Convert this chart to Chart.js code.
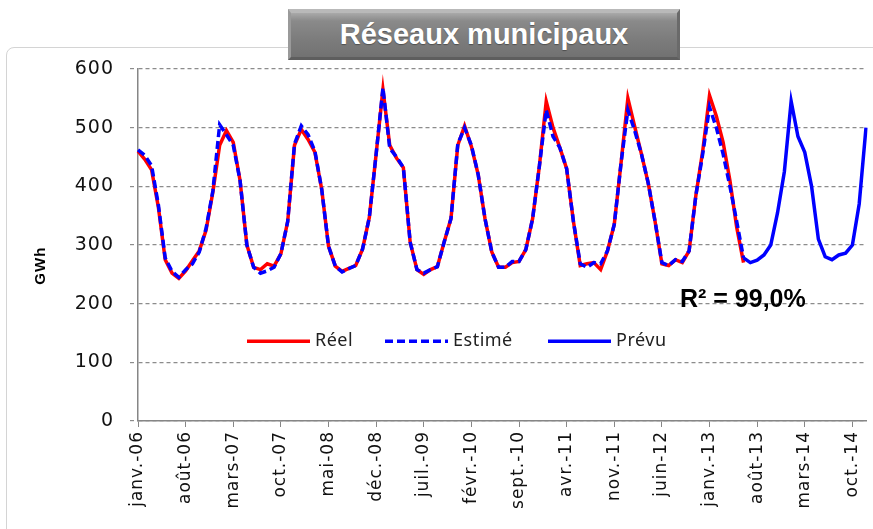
<!DOCTYPE html>
<html>

<head>
    <meta charset="UTF-8">
    <title>Réseaux municipaux</title>
    <script src="https://cdn.jsdelivr.net/npm/chart.js"></script>
    <style>
        body { margin: 0; background: #fff; }
        #wrap { position: relative; width: 873px; height: 529px; overflow: hidden; background: #fff; }
        #frame {
            position: absolute; left: 6px; top: 47px; width: 900px; height: 600px;
            border: 1px solid #d4d4d4; border-radius: 8px;
        }
        #title {
            position: absolute; left: 288px; top: 9px; width: 392px; height: 51px;
            box-sizing: border-box;
            background: linear-gradient(#a9a9a9 0%, #8a8a8a 18%, #7c7c7c 60%, #727272 100%);
            border-top: 4px solid #b9b9b9; border-left: 3px solid #9a9a9a;
            border-right: 3px solid #6a6a6a; border-bottom: 3px solid #5e5e5e;
            color: #fff; font: bold 29px "Liberation Sans", Arial, sans-serif;
            text-align: center; line-height: 42px;
            text-shadow: 0 1px 1px rgba(0, 0, 0, 0.35);
        }
        canvas { position: absolute; left: 0; top: 0; }
    </style>
</head>

<body>
    <div id="wrap">
        <div id="frame"></div>
        <canvas id="chart" width="873" height="529"></canvas>
        <div id="title">Réseaux municipaux</div>
    </div>

    <script>
        const monthNames = ["janv.", "févr.", "mars", "avr.", "mai", "juin", "juil.", "août", "sept.", "oct.", "nov.", "déc."];
        const years = ["06", "07", "08", "09", "10", "11", "12", "13", "14"];

        // GWh, janv.-06 .. juin-13
        const reel = [
            460, 446, 428, 364, 275, 252, 243, 256, 273, 290, 325, 390,
            470, 495, 475, 410, 300, 262, 258, 268, 264, 285, 340, 470,
            497, 480, 458, 395, 298, 264, 255, 260, 265, 293, 347, 455,
            565, 470, 448, 432, 305, 258, 250, 258, 263, 305, 345, 470,
            503, 468, 420, 345, 288, 262, 262, 270, 272, 292, 345, 435,
            545, 500, 466, 430, 340, 265, 268, 270, 258, 290, 335, 440,
            550, 502, 455, 405, 340, 268, 265, 275, 270, 290, 385, 460,
            555, 520, 475, 410, 330, 270
        ];
        const estime = [
            462, 453, 435, 368, 278, 255, 245, 258, 268, 288, 328, 392,
            505, 488, 470, 410, 300, 262, 252, 256, 262, 285, 340, 472,
            503, 488, 460, 395, 298, 264, 254, 260, 265, 293, 347, 455,
            568, 465, 450, 432, 305, 258, 252, 258, 263, 305, 345, 472,
            500, 470, 420, 345, 288, 262, 262, 272, 272, 292, 345, 435,
            530, 485, 466, 430, 340, 268, 262, 270, 268, 290, 335, 440,
            530, 495, 455, 405, 340, 270, 265, 275, 272, 290, 385, 455,
            535, 500, 455, 400, 340, 278
        ];
        // juin-13 .. déc.-14
        const prevu = [
            278, 270, 274, 283, 300, 355, 425, 545, 485, 458, 400, 310,
            280, 275, 283, 286, 300, 370, 500
        ];
        const prevuStart = 89;

        const labels = [];
        years.forEach(y => monthNames.forEach(m => labels.push(m + "-" + y)));

        const prevuData = labels.map((_, i) => i >= prevuStart ? prevu[i - prevuStart] : null);

        const legendItems = [
            { text: "Réel", color: "#ff0000", dash: [] },
            { text: "Estimé", color: "#0000ff", dash: [8, 4] },
            { text: "Prévu", color: "#0000ff", dash: [] }
        ];

        // Excel-like loose spacing on the axis labels
        const spacing = {
            id: "spacing",
            beforeDraw(chart) { chart.ctx.letterSpacing = "1px"; }
        };

        const overlay = {
            id: "overlay",
            afterDraw(chart) {
                const c = chart.ctx;
                const a = chart.chartArea;
                const yLeg = chart.scales.y.getPixelForValue(136);
                const starts = [109, 247, 410];
                c.save();
                c.letterSpacing = "0.5px";
                legendItems.forEach((it, k) => {
                    const x0 = a.left + starts[k];
                    c.strokeStyle = it.color;
                    c.lineWidth = 3.5;
                    c.setLineDash(it.dash);
                    c.beginPath();
                    c.moveTo(x0, yLeg);
                    c.lineTo(x0 + 63, yLeg);
                    c.stroke();
                    c.setLineDash([]);
                    c.fillStyle = "#222";
                    c.font = "18px 'Noto Sans'";
                    c.textBaseline = "middle";
                    c.fillText(it.text, x0 + 68, yLeg);
                });
                c.letterSpacing = "0px";
                c.fillStyle = "#000";
                c.font = "bold 25px 'Liberation Sans'";
                c.textBaseline = "middle";
                c.fillText("R² = 99,0%", a.left + 542, chart.scales.y.getPixelForValue(206));
                c.restore();
            }
        };

        const ctx = document.getElementById("chart").getContext("2d");

        new Chart(ctx, {
            type: "line",
            data: {
                labels: labels,
                datasets: [
                    {
                        label: "Réel",
                        data: reel,
                        borderColor: "#ff0000",
                        borderWidth: 3.5,
                        pointRadius: 0,
                        tension: 0,
                        order: 3
                    },
                    {
                        label: "Estimé",
                        data: estime,
                        borderColor: "#0000ff",
                        borderWidth: 3.5,
                        borderDash: [8, 4],
                        pointRadius: 0,
                        tension: 0,
                        order: 2
                    },
                    {
                        label: "Prévu",
                        data: prevuData,
                        borderColor: "#0000ff",
                        borderWidth: 3.5,
                        pointRadius: 0,
                        tension: 0,
                        order: 1
                    }
                ]
            },
            options: {
                responsive: false,
                animation: false,
                layout: { padding: { left: 30, top: 69, right: 7, bottom: 0 } },
                scales: {
                    x: {
                        afterFit: s => {
                            s.height = 108;
                            s.paddingRight = 0;
                            s.paddingLeft = 0;
                        },
                        grid: { drawOnChartArea: false, drawTicks: true, tickLength: 6, color: "#868686" },
                        border: { color: "#868686", width: 1.5 },
                        ticks: {
                            autoSkip: false,
                            minRotation: 90,
                            maxRotation: 90,
                            padding: 4,
                            color: "#111",
                            font: { family: "DejaVu Sans", size: 17 },
                            callback: function (v, i) { return i % 7 === 0 ? this.getLabelForValue(v) : null; }
                        }
                    },
                    y: {
                        min: 0,
                        max: 600,
                        afterFit: s => { s.width = 108; },
                        grid: {
                            color: "#8c8c8c",
                            lineWidth: 1.2,
                            tickLength: 8,
                            tickBorderDash: [4, 3]
                        },
                        border: { color: "#868686", width: 1.5, dash: [4, 3] },
                        ticks: {
                            stepSize: 100,
                            padding: 16,
                            color: "#111",
                            font: { family: "DejaVu Sans", size: 19 }
                        },
                        title: {
                            display: true,
                            text: "GWh        ",
                            color: "#000",
                            font: { family: "Liberation Sans", size: 15, weight: "bold" },
                            padding: 2
                        }
                    }
                },
                plugins: {
                    legend: { display: false },
                    tooltip: { enabled: false }
                }
            },
            plugins: [spacing, overlay]
        });
    </script>
</body>

</html>
